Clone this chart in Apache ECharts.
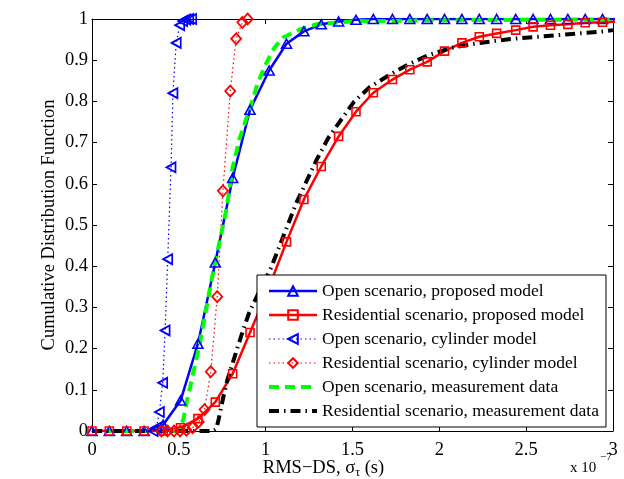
<!DOCTYPE html>
<html>
<head>
<meta charset="utf-8">
<script src="https://cdn.jsdelivr.net/npm/echarts@6.0.0/dist/echarts.min.js"></script>
<style>
  html, body { margin: 0; padding: 0; background: #fff; }
  #chart { width: 624px; height: 479px; }
</style>
</head>
<body>
<div id="chart"></div>
<script>
// Series names, as shown in the legend
const seriesNames = [
  'Open scenario, proposed model',
  'Residential scenario, proposed model',
  'Open scenario, cylinder model',
  'Residential scenario, cylinder model',
  'Open scenario, measurement data',
  'Residential scenario, measurement data'
];

// Tick labels (x in units of 1e-7 s)
const xTickLabels = ['0', '0.5', '1', '1.5', '2', '2.5', '3'];
const yTickLabels = ['0', '0.1', '0.2', '0.3', '0.4', '0.5', '0.6', '0.7', '0.8', '0.9', '1'];

// Delay grid of the proposed model
const modelX = [0, 0.10, 0.20, 0.30, 0.41, 0.51, 0.61, 0.71, 0.81, 0.91, 1.02, 1.12, 1.22, 1.32, 1.42,
  1.52, 1.62, 1.73, 1.83, 1.93, 2.03, 2.13, 2.23, 2.33, 2.44, 2.54, 2.64, 2.74, 2.84, 2.94, 3.05];

// CDF of the proposed model
const openProposedY = [0, 0, 0, 0, 0.015, 0.074, 0.212, 0.409, 0.614, 0.780, 0.875, 0.940, 0.970, 0.987, 0.994,
  0.998, 1, 1, 1, 1, 1, 1, 1, 1, 1, 1, 1, 1, 1, 1, 1];
const residentialProposedY = [0, 0, 0, 0, 0, 0.008, 0.030, 0.070, 0.139, 0.239, 0.350, 0.459, 0.562, 0.642, 0.715,
  0.775, 0.821, 0.853, 0.877, 0.896, 0.922, 0.942, 0.957, 0.965, 0.973, 0.981, 0.985, 0.987, 0.991, 0.992, 0.994];

// Cylinder model, open scenario
const openCylinderX = [0.352, 0.371, 0.388, 0.407, 0.421, 0.436, 0.455, 0.466, 0.485, 0.505, 0.522, 0.540, 0.557, 0.574];
const openCylinderY = [0, 0.008, 0.046, 0.117, 0.244, 0.417, 0.640, 0.820, 0.942, 0.985, 0.995, 0.999, 1, 1];

// Cylinder model, residential scenario
const residentialCylinderX = [0.400, 0.435, 0.472, 0.507, 0.544, 0.579, 0.614, 0.648, 0.684, 0.721, 0.754, 0.796, 0.830, 0.866, 0.896];
const residentialCylinderY = [0, 0, 0, 0, 0.002, 0.008, 0.022, 0.052, 0.144, 0.326, 0.583, 0.825, 0.952, 0.992, 1];

// Measurement data, open scenario
const openMeasX = [0, 0.50, 0.527, 0.545, 0.562, 0.59, 0.62, 0.655, 0.69, 0.725, 0.775, 0.81, 0.85, 0.91, 0.955,
  1.0, 1.05, 1.1, 1.2, 1.3, 1.5, 2.0, 2.5, 3.0];
const openMeasY = [0, 0, 0.03, 0.07, 0.10, 0.155, 0.21, 0.29, 0.37, 0.44, 0.54, 0.64, 0.71, 0.785, 0.845,
  0.89, 0.93, 0.955, 0.975, 0.988, 0.994, 0.997, 0.998, 0.999];

// Measurement data, residential scenario
const residentialMeasX = [0, 0.70, 0.716, 0.73, 0.755, 0.78, 0.81, 0.84, 0.87, 0.905, 0.97, 1.03, 1.176, 1.293, 1.36,
  1.417, 1.51, 1.60, 1.72, 1.81, 1.85, 1.93, 2.06, 2.17, 2.22, 2.4, 2.6, 2.8, 2.95, 3.0];
const residentialMeasY = [0, 0, 0.005, 0.03, 0.08, 0.125, 0.165, 0.205, 0.245, 0.287, 0.345, 0.395, 0.553, 0.658, 0.711,
  0.745, 0.80, 0.835, 0.866, 0.887, 0.895, 0.911, 0.929, 0.938, 0.941, 0.951, 0.958, 0.965, 0.970, 0.973];

const zip = (xs, ys) => xs.map((x, i) => [x, ys[i]]);

const FONT = '"Liberation Serif", "Times New Roman", serif';
const BLUE = '#0000ff', RED = '#ff0000', GREEN = '#00ff00', BLACK = '#000000';
const HOLLOW = 'rgba(255,255,255,0)';

const chart = echarts.init(document.getElementById('chart'), null, { renderer: 'canvas' });

const frameAxis = (position) => ({
  type: 'value',
  position: position,
  axisLine: { show: true, onZero: false, lineStyle: { color: BLACK, width: 1 } },
  axisTick: { show: true, inside: true, length: 5, lineStyle: { color: BLACK, width: 1 } },
  splitLine: { show: false }
});

// Legend entries; the measurement curves are drawn as plain lines, with no marker
const legendData = seriesNames.map((name, i) => (i < 4 ? { name } : {
  name, itemStyle: { color: 'rgba(0,0,0,0)', borderWidth: 0, opacity: 0 }
}));

chart.setOption({
  animation: false,
  backgroundColor: '#fff',
  grid: { left: 92, right: 11, top: 19, bottom: 48, containLabel: false, outerBoundsMode: 'none' },
  xAxis: [
    Object.assign(frameAxis('bottom'), {
      min: 0, max: 3, interval: 0.5,
      axisLabel: {
        color: BLACK, fontFamily: FONT, fontSize: 18.5, margin: 10,
        formatter: (v) => xTickLabels[Math.round(v * 2)]
      },
      name: 'RMS−DS, σ{sub|τ} (s)',
      nameLocation: 'middle',
      nameGap: 26,
      nameMoveOverlap: false,
      nameTextStyle: {
        color: BLACK, fontFamily: FONT, fontSize: 18.5, padding: [0, 58, 0, 0],
        rich: { sub: { fontFamily: FONT, fontSize: 12, color: BLACK, padding: [10, 0, 0, 0] } }
      }
    }),
    Object.assign(frameAxis('top'), {
      min: 0, max: 3, interval: 0.5, axisLabel: { show: false }
    })
  ],
  yAxis: [
    Object.assign(frameAxis('left'), {
      min: 0, max: 1, interval: 0.1,
      axisLabel: {
        color: BLACK, fontFamily: FONT, fontSize: 18.5, margin: 4,
        formatter: (v) => yTickLabels[Math.round(v * 10)]
      },
      name: 'Cumulative Distribution Function',
      nameLocation: 'middle',
      nameGap: 33,
      nameMoveOverlap: false,
      nameTextStyle: { color: BLACK, fontFamily: FONT, fontSize: 18.5 }
    }),
    Object.assign(frameAxis('right'), {
      min: 0, max: 1, interval: 0.1, axisLabel: { show: false }
    })
  ],
  legend: {
    orient: 'vertical',
    left: 257, top: 275,
    padding: [7, 7, 7, 10],
    itemWidth: 48, itemHeight: 12, itemGap: 6,
    backgroundColor: '#fff',
    borderColor: BLACK, borderWidth: 1, borderRadius: 0,
    lineStyle: { width: 'inherit' },
    textStyle: { color: BLACK, fontFamily: FONT, fontSize: 17.5, lineHeight: 17.5 },
    data: legendData
  },
  graphic: [
    { type: 'text', left: 570, top: 461, style: { text: 'x 10', fill: BLACK, font: '15px ' + FONT } },
    { type: 'text', left: 600, top: 452, style: { text: '−7', fill: BLACK, font: '11px ' + FONT } }
  ],
  series: [
    {
      name: seriesNames[0], type: 'line', data: zip(modelX, openProposedY),
      symbol: 'triangle', symbolSize: [10, 9],
      lineStyle: { color: BLUE, width: 2.5 },
      itemStyle: { color: HOLLOW, borderColor: BLUE, borderWidth: 1.6 }
    },
    {
      name: seriesNames[1], type: 'line', data: zip(modelX, residentialProposedY),
      symbol: 'rect', symbolSize: 8,
      lineStyle: { color: RED, width: 2.5 },
      itemStyle: { color: HOLLOW, borderColor: RED, borderWidth: 1.6 }
    },
    {
      name: seriesNames[2], type: 'line', data: zip(openCylinderX, openCylinderY),
      symbol: 'triangle', symbolRotate: 90, symbolSize: [10, 9],
      lineStyle: { color: BLUE, width: 1.2, type: [1.5, 3] },
      itemStyle: { color: HOLLOW, borderColor: BLUE, borderWidth: 1.8 }
    },
    {
      name: seriesNames[3], type: 'line', data: zip(residentialCylinderX, residentialCylinderY),
      symbol: 'diamond', symbolSize: [10, 11],
      lineStyle: { color: RED, width: 1.2, type: [1.5, 3] },
      itemStyle: { color: HOLLOW, borderColor: RED, borderWidth: 1.8 }
    },
    {
      name: seriesNames[4], type: 'line', data: zip(openMeasX, openMeasY),
      symbol: 'none',
      lineStyle: { color: GREEN, width: 4, type: [10, 6] }
    },
    {
      name: seriesNames[5], type: 'line', data: zip(residentialMeasX, residentialMeasY),
      symbol: 'none',
      lineStyle: { color: BLACK, width: 4, type: [10, 5, 1.5, 5] }
    }
  ]
});
</script>
</body>
</html>
